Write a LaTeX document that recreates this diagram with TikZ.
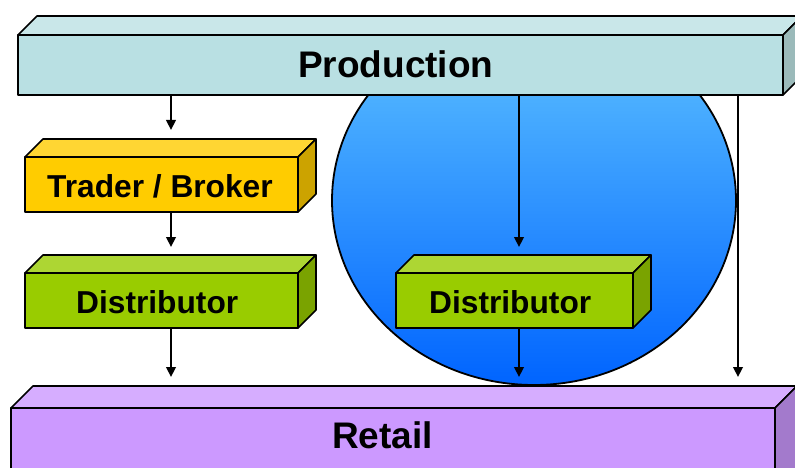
\documentclass[tikz,border=0pt]{standalone}
\usepackage{fontspec}
\setmainfont{Liberation Sans}
\usetikzlibrary{arrows.meta}
\definecolor{prodF}{RGB}{185,224,227}
\definecolor{prodT}{RGB}{201,231,233}
\definecolor{prodS}{RGB}{155,186,186}
\definecolor{tradF}{RGB}{255,204,0}
\definecolor{tradT}{RGB}{255,214,51}
\definecolor{tradS}{RGB}{204,163,0}
\definecolor{distF}{RGB}{153,204,0}
\definecolor{distT}{RGB}{173,214,51}
\definecolor{distS}{RGB}{122,163,0}
\definecolor{retF}{RGB}{204,153,255}
\definecolor{retT}{RGB}{214,173,255}
\definecolor{retS}{RGB}{163,122,204}
\definecolor{blueTop}{RGB}{96,196,255}
\definecolor{blueBot}{RGB}{0,100,255}
\tikzset{
  face/.style={draw=black, line width=1.6pt, line join=round},
  frontbox/.style={face, rectangle, inner sep=0pt, outer sep=0pt},
  lbl/.style={anchor=base west, inner sep=0pt, font=\bfseries},
  flowarrow/.style={draw=black, line width=2.4pt, arrows={-Triangle[width=9.5pt,length=10pt]}}
}
\newcommand\cuboidbox[9]{%
  \node[frontbox, fill=#7, minimum width={(#4-#2)*1pt}, minimum height={(#5-#3)*1pt}] (#1) at ({(#2+#4)/2},{(#3+#5)/2}) {};
  \draw[face, fill=#8] (#1.north west) -- ++(#6,-#6) -- ([shift={(#6,-#6)}]#1.north east) -- (#1.north east) -- cycle;
  \draw[face, fill=#9] (#1.north east) -- ++(#6,-#6) -- ([shift={(#6,-#6)}]#1.south east) -- (#1.south east) -- cycle;
}
\begin{document}
\begin{tikzpicture}[x=1pt,y=-1pt]
\useasboundingbox (0,0) rectangle (795,468);
\clip (0,0) rectangle (795,468);
% circle
\shadedraw[top color=blueTop, bottom color=blueBot, draw=black, line width=1.8pt] (534,200.5) ellipse [x radius=202pt, y radius=184.5pt];
% boxes
\cuboidbox{prod}{18}{35}{783}{95}{19}{prodF}{prodT}{prodS}
\cuboidbox{trad}{25}{157}{298}{212}{18}{tradF}{tradT}{tradS}
\cuboidbox{distL}{25}{273}{298}{328}{18}{distF}{distT}{distS}
\cuboidbox{distR}{396}{273}{633}{328}{18}{distF}{distT}{distS}
\cuboidbox{ret}{11}{408}{775}{500}{22}{retF}{retT}{retS}
% labels
\node[lbl, font=\bfseries\fontsize{37}{40}\selectfont] (tprod) at (298,78) {Production};
\node[lbl, font=\bfseries\fontsize{31.7}{36}\selectfont] (ttrad) at (47,197) {Trader / Broker};
\node[lbl, font=\bfseries\fontsize{31.7}{36}\selectfont] (tdistL) at (76,313) {Distributor};
\node[lbl, font=\bfseries\fontsize{31.7}{36}\selectfont] (tdistR) at (429,313) {Distributor};
\node[lbl, font=\bfseries\fontsize{37}{40}\selectfont] (tret) at (332,448) {Retail};
% arrow tips
\coordinate (e1) at (171,130);
\coordinate (e2) at (171,247);
\coordinate (e3) at (171,377);
\coordinate (e4) at (519,247);
\coordinate (e5) at (519,377);
\coordinate (e6) at (738,377);
\path[flowarrow] (prod.south -| e1) -- (e1);
\path[flowarrow] (trad.south -| e2) -- (e2);
\path[flowarrow] (distL.south -| e3) -- (e3);
\path[flowarrow] (prod.south -| e4) -- (e4);
\path[flowarrow] (distR.south -| e5) -- (e5);
\path[flowarrow] (prod.south -| e6) -- (e6);
\end{tikzpicture}
\end{document}
